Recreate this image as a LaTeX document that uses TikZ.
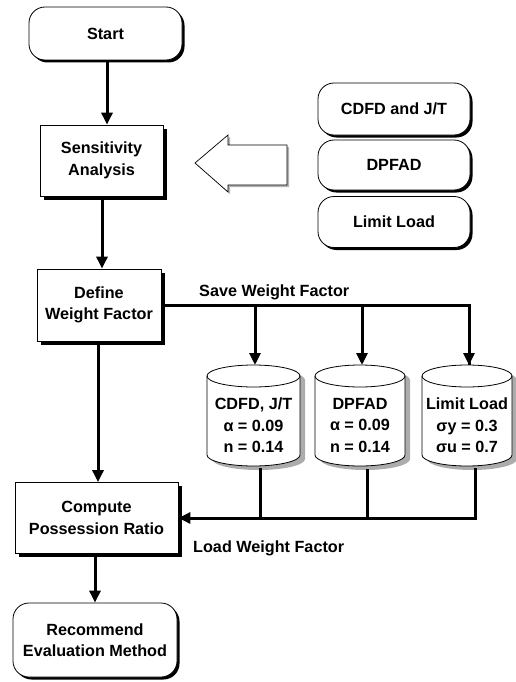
\documentclass[tikz,border=0pt]{standalone}
\usepackage{fontspec}
\setmainfont{Liberation Sans}
\usetikzlibrary{arrows.meta,shadows}
\begin{document}
\begin{tikzpicture}[x=1pt,y=-1pt,
  txt/.style={font=\bfseries\fontsize{16.2}{21.5}\selectfont, align=center, inner sep=0pt},
  rbox/.style={txt, draw, line width=0.8pt, fill=white, rounded corners=16pt,
     drop shadow={shadow xshift=2.5pt, shadow yshift=-2.5pt, fill=black, opacity=1}},
  sbox/.style={txt, draw, line width=0.8pt, fill=white,
     drop shadow={shadow xshift=3.5pt, shadow yshift=-3.5pt, fill=black, opacity=1}},
  conn/.style={line width=3pt},
  arr/.style={conn, -{Triangle[width=11pt,length=12pt]}},
  lbl/.style={font=\bfseries\fontsize{16.2}{18}\selectfont, inner sep=0pt, anchor=west}]
\useasboundingbox[fill=white] (0,0) rectangle (515,682);

% main column
\node[rbox, minimum width=153pt, minimum height=53pt] (start) at (105.5,33.5) {Start};
\node[sbox, minimum width=123pt, minimum height=71pt] (sens) at (101.5,160.5) {Sensitivity\\Analysis};
\node[sbox, minimum width=124pt, minimum height=72pt] (def) at (99,305) {Define\\Weight Factor};
\node[sbox, minimum width=163pt, minimum height=71pt] (comp) at (96.5,518) {Compute\\Possession Ratio};
\node[rbox, minimum width=164pt, minimum height=74pt] (rec) at (95,640) {Recommend\\Evaluation Method};

% right column methods
\node[rbox, minimum width=152pt, minimum height=52pt] (m1) at (394,109) {CDFD and J/T};
\node[rbox, minimum width=152pt, minimum height=50pt] (m2) at (394,165) {DPFAD};
\node[rbox, minimum width=152pt, minimum height=51pt] (m3) at (394,222) {Limit Load};

% hollow arrow
\fill[gray!60] (197,165) -- (230,137) -- (230,147) -- (289,147) -- (289,187) -- (230,187) -- (230,194) -- cycle;
\draw[fill=white, line width=0.7pt] (195,163) -- (228,135) -- (228,145) -- (287,145) -- (287,185) -- (228,185) -- (228,192) -- cycle;

% cylinders
\foreach \L/\R in {207/300, 315/405, 422/512}{
  \pgfmathsetmacro{\rx}{(\R-\L)/2}
  \fill[gray!65] (\L+5,380) arc (180:360:\rx\space and 11) -- (\R+5,459) arc (0:180:\rx\space and 11) -- cycle;
  \draw[fill=white, line width=0.8pt] (\L,376) arc (180:360:\rx\space and 11) -- (\R,455) arc (0:180:\rx\space and 11) -- cycle;
  \draw[line width=0.8pt] (\L,376) arc (180:0:\rx\space and 11);
}
\node[txt] (c1) at (253.5,425.5) {CDFD, J/T\\α = 0.09\\n = 0.14};
\node[txt] (c2) at (360,425.5) {DPFAD\\α = 0.09\\n = 0.14};
\node[txt] (c3) at (467,425.5) {Limit Load\\σy = 0.3\\σu = 0.7};
\coordinate (c1top) at (255,365);
\coordinate (c2top) at (362,365);
\coordinate (c3top) at (469,365);
\coordinate (c1bot) at (260,468);
\coordinate (c2bot) at (367,469);
\coordinate (c3bot) at (475,468);

% connectors
\draw[arr] (start.south -| 107,0) -- (sens.north -| 107,0);
\draw[arr] (sens.south -| 102,0) -- (def.north -| 102,0);
\draw[arr] (def.south -| 98,0) -- (comp.north -| 98,0);
\draw[arr] (comp.south -| 95,0) -- (rec.north -| 95,0);

\draw[conn] (def.east) -| (c3top);
\draw[arr] (c3top |- def.east) -- (c3top);
\draw[arr] (c1top |- def.east) -- (c1top);
\draw[arr] (c2top |- def.east) -- (c2top);

\draw[conn] (c3bot) |- (comp.east);
\draw[arr] (c1bot |- comp.east) -- (comp.east);
\draw[conn] (c1bot) -- (c1bot |- comp.east);
\draw[conn] (c2bot) -- (c2bot |- comp.east);

% labels
\node[lbl] (save) at (199,292) {Save Weight Factor};
\node[lbl] (load) at (193,548) {Load Weight Factor};
\end{tikzpicture}
\end{document}
